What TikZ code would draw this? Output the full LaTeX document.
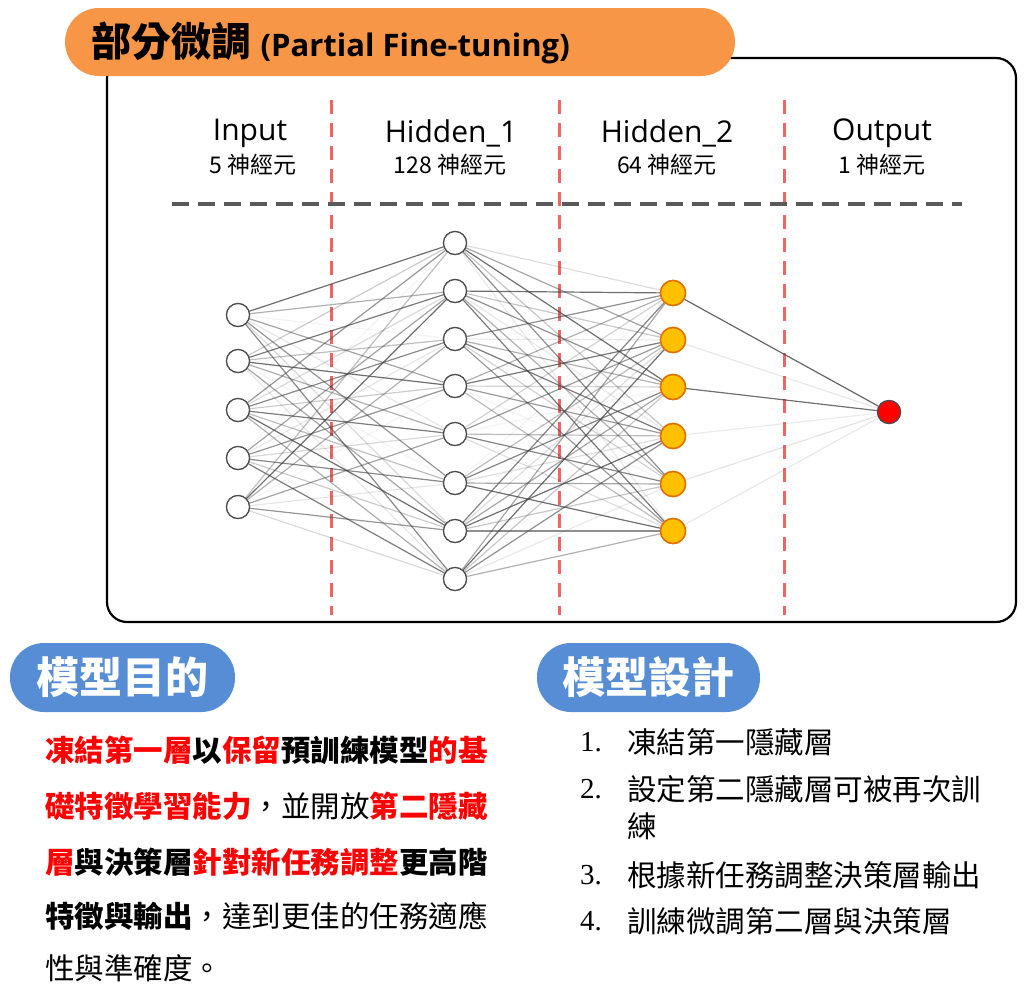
\documentclass[tikz,border=0pt]{standalone}
\usepackage{fontspec}
\setmainfont{Open Sans}
\newfontfamily\cjk{Noto Sans CJK TC}
\newcommand\cjkbold{\cjk\bfseries}
\newfontfamily\serifnum{Liberation Serif}
\definecolor{orgA}{RGB}{247,150,70}
\definecolor{bluP}{RGB}{86,141,212}
\definecolor{hidF}{RGB}{255,192,0}
\definecolor{hidD}{RGB}{224,112,0}
\definecolor{dashR}{RGB}{240,100,100}
\begin{document}
\begin{tikzpicture}[x=1pt,y=-1pt,
  neu/.style={circle,draw=black!70,fill=white,line width=1.2pt,minimum size=23pt,inner sep=0pt},
  hid/.style={circle,draw=hidD,fill=hidF,line width=1.5pt,minimum size=25pt,inner sep=0pt},
  outn/.style={circle,draw=black!70,fill=red,line width=1.2pt,minimum size=23pt,inner sep=0pt},
  edge/.style={draw=black!75,line width=1.2pt},
  vdash/.style={draw=dashR,line width=3pt,dash pattern=on 14pt off 9pt},
  pill/.style={rounded corners=34pt},
  hdr/.style={font=\fontsize{30}{32}\selectfont,anchor=center},
  sub/.style={font=\cjk\fontsize{23}{26}\selectfont,anchor=center},
  para/.style={anchor=west,font=\cjk\fontsize{29.5}{32}\selectfont,inner sep=0pt},
  lst/.style={anchor=west,font=\cjk\fontsize{29.5}{32}\selectfont,inner sep=0pt},
  num/.style={anchor=west,font=\serifnum\fontsize{29}{32}\selectfont,inner sep=0pt}]
\useasboundingbox (0,0) rectangle (1024,1007);
% frame
\draw[line width=2.2pt,rounded corners=20pt] (107,58) rectangle (1016,622);
\fill[orgA,pill] (65,8) rectangle (735,76);
\node[anchor=west,font=\cjkbold\fontsize{40}{42}\selectfont] (title) at (88,43) {部分微調 {\normalfont\bfseries\fontsize{31}{34}\selectfont(Partial Fine-tuning)}};
% dashed separators
\foreach \x/\n in {331/a,559/b,784/c}{
  \coordinate (t\n) at (\x,100); \coordinate (b\n) at (\x,615);
  \draw[vdash] (t\n) -- (b\n);}
\coordinate (hl) at (172,204); \coordinate (hr) at (962,204);
\draw[draw=black!65,line width=3.5pt,dash pattern=on 17pt off 9pt] (hl) -- (hr);
% headers
\node[hdr] (h0) at (250,133) {Input};
\node[sub] (s0) at (253,165) {5 神經元};
\node[hdr] (h1) at (451,133) {Hidden\_1};
\node[sub] (s1) at (450,165) {128 神經元};
\node[hdr] (h2) at (667,133) {Hidden\_2};
\node[sub] (s2) at (667,165) {64 神經元};
\node[hdr] (h3) at (882,133) {Output};
\node[sub] (s3) at (882,165) {1 神經元};
% nodes
\foreach \y [count=\i] in {315,361,410,458,507} \node[neu] (i\i) at (238,\y) {};
\foreach \y [count=\i] in {243,291,339,386,434,483,531,579} \node[neu] (a\i) at (455,\y) {};
\foreach \y [count=\i] in {293,340,387,436,484,531} \node[hid] (c\i) at (673,\y) {};
\node[outn] (o) at (889,412) {};
% edges
\foreach \i in {1,...,5}{\foreach \j in {1,...,8}{
  \pgfmathsetmacro{\op}{0.06+0.7*mod(\i*37+\j*17,11)/10}
  \draw[edge,draw opacity=\op] (i\i) -- (a\j);}}
\foreach \i in {1,...,8}{\foreach \j in {1,...,6}{
  \pgfmathsetmacro{\op}{0.06+0.7*mod(\i*23+\j*31,13)/12}
  \draw[edge,draw opacity=\op] (a\i) -- (c\j);}}
\foreach \j/\op in {1/0.8,2/0.12,3/0.75,4/0.1,5/0.15,6/0.12}{
  \draw[edge,draw opacity=\op] (c\j) -- (o);}
% redraw nodes on top
\foreach \y in {315,361,410,458,507} \node[neu] at (238,\y) {};
\foreach \y in {243,291,339,386,434,483,531,579} \node[neu] at (455,\y) {};
\foreach \y in {293,340,387,436,484,531} \node[hid] at (673,\y) {};
\node[outn] at (889,412) {};
% blue pills
\fill[bluP,pill] (10,643) rectangle (235,712);
\node[font=\cjkbold\fontsize{43}{45}\selectfont,text=white] (p1) at (122,677) {模型目的};
\fill[bluP,pill] (537,643) rectangle (760,712);
\node[font=\cjkbold\fontsize{43}{45}\selectfont,text=white] (p2) at (648,677) {模型設計};
% paragraph
\node[para] (l1) at (45,750) {\bfseries\textcolor{red}{凍結第一層}以\textcolor{red}{保留}預訓練模型\textcolor{red}{的基}};
\node[para] (l2) at (45,806) {\textcolor{red}{\bfseries 礎特徵學習能力}，並開放\textcolor{red}{\bfseries 第二隱藏}};
\node[para] (l3) at (45,862) {\bfseries\textcolor{red}{層}與決策層\textcolor{red}{針對新任務調整}更高階};
\node[para] (l4) at (45,916) {{\bfseries 特徵與輸出}，達到更佳的任務適應};
\node[para] (l5) at (45,968) {性與準確度。};
% list
\node[num] (n1) at (580,742) {1.};
\node[lst] (t1) at (627,742) {凍結第一隱藏層};
\node[num] (n2) at (580,789) {2.};
\node[lst] (t2) at (627,789) {設定第二隱藏層可被再次訓};
\node[lst] (t2b) at (627,826) {練};
\node[num] (n3) at (580,875) {3.};
\node[lst] (t3) at (627,875) {根據新任務調整決策層輸出};
\node[num] (n4) at (580,921) {4.};
\node[lst] (t4) at (627,921) {訓練微調第二層與決策層};
\end{tikzpicture}
\end{document}
